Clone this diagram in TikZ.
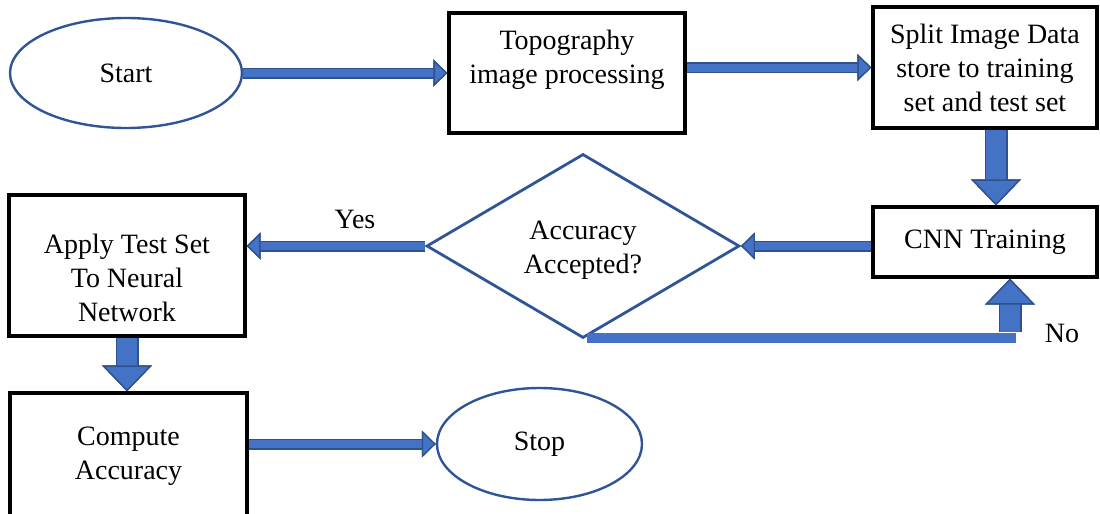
\documentclass[tikz,border=0pt]{standalone}
\usepackage{fontspec}
\setmainfont{Liberation Serif}
\usetikzlibrary{shapes.geometric, arrows.meta, positioning}

\definecolor{arrowfill}{HTML}{4472C4}
\definecolor{arrowedge}{HTML}{2F528F}
\definecolor{shapeedge}{HTML}{2F5597}

\tikzset{
process/.style={rectangle, draw=black, line width=1.6pt, align=center, inner sep=0pt}, % plain step boxes
terminal/.style={ellipse, draw=shapeedge, line width=1.2pt}, % start and stop
decision/.style={diamond, draw=shapeedge, line width=1.4pt, align=center, inner sep=0pt},
thinarrow/.style={draw=arrowfill, line width=4pt, preaction={draw=arrowedge, line width=5.5pt},
  -{Triangle[length=7pt, width=13.5pt, fill=arrowfill, color=arrowedge, line width=0.7pt]}},
fatarrow/.style={draw=arrowfill, line width=10pt, preaction={draw=arrowedge, line width=11.5pt},
  -{Triangle[length=13pt, width=25pt, fill=arrowfill, color=arrowedge, line width=0.7pt]}},
}

\begin{document}
\begin{tikzpicture}[x=0.5pt, y=-0.5pt, font={\fontsize{14pt}{17pt}\selectfont}]
    \useasboundingbox (0,0) rectangle (1100,514);
    \clip (0,0) rectangle (1100,514);

    \node[terminal, minimum width=116pt, minimum height=55pt] (start) at (126,73) {Start};
    \node[process, minimum width=118pt, minimum height=60pt,
          label={[align=center, yshift=6.75pt]center:Topography\\image processing}] (topo) at (567,73) {};
    \node[process, minimum width=112pt, minimum height=60.5pt] (split) at (985,67.5)
          {Split Image Data\\store to training\\set and test set};
    \node[process, minimum width=112pt, minimum height=35pt] (cnn) at (985,242) {CNN Training};
    \node[decision, minimum width=156.5pt, minimum height=92pt,
          label={[align=center, yshift=-2pt]center:Accuracy\\Accepted?}] (acc) at (583,246) {};
    \node[process, minimum width=118pt, minimum height=70.5pt,
          label={[align=center, yshift=-6.25pt]center:Apply Test Set\\To Neural\\Network}] (apply) at (127,265.5) {};
    \node[process, minimum width=118.5pt, minimum height=63pt] (compute) at (128.5,456) {Compute\\Accuracy};
    \node[terminal, minimum width=102.5pt, minimum height=56pt] (stop) at (539.5,444) {Stop};

    \coordinate (nocorner) at (1016,338);
    \coordinate (nofoot) at (1010,332);

    \draw[thinarrow] (start) -- (topo);
    \draw[thinarrow] (topo.east |- split) -- (split);
    \draw[fatarrow] ([xshift=5.5pt]split.south) -- ([xshift=5.5pt]split.south |- cnn.north);
    \draw[thinarrow] (cnn.west |- acc) -- (acc);
    \draw[thinarrow] (acc) -- (acc -| apply.east);
    \draw[fatarrow] (apply.south) -- (apply.south |- compute.north);
    \draw[thinarrow] (compute.east |- stop) -- (stop);

    % the "No" branch back up into the training box
    \draw[arrowfill, line width=5pt] ([xshift=2pt]acc.south |- nocorner) -- (nocorner);
    \draw[fatarrow] (nofoot) -- (nofoot |- cnn.south);

    \node (yes) at (355,219) {Yes};
    \node (no) at (1062,333) {No};
\end{tikzpicture}
\end{document}
